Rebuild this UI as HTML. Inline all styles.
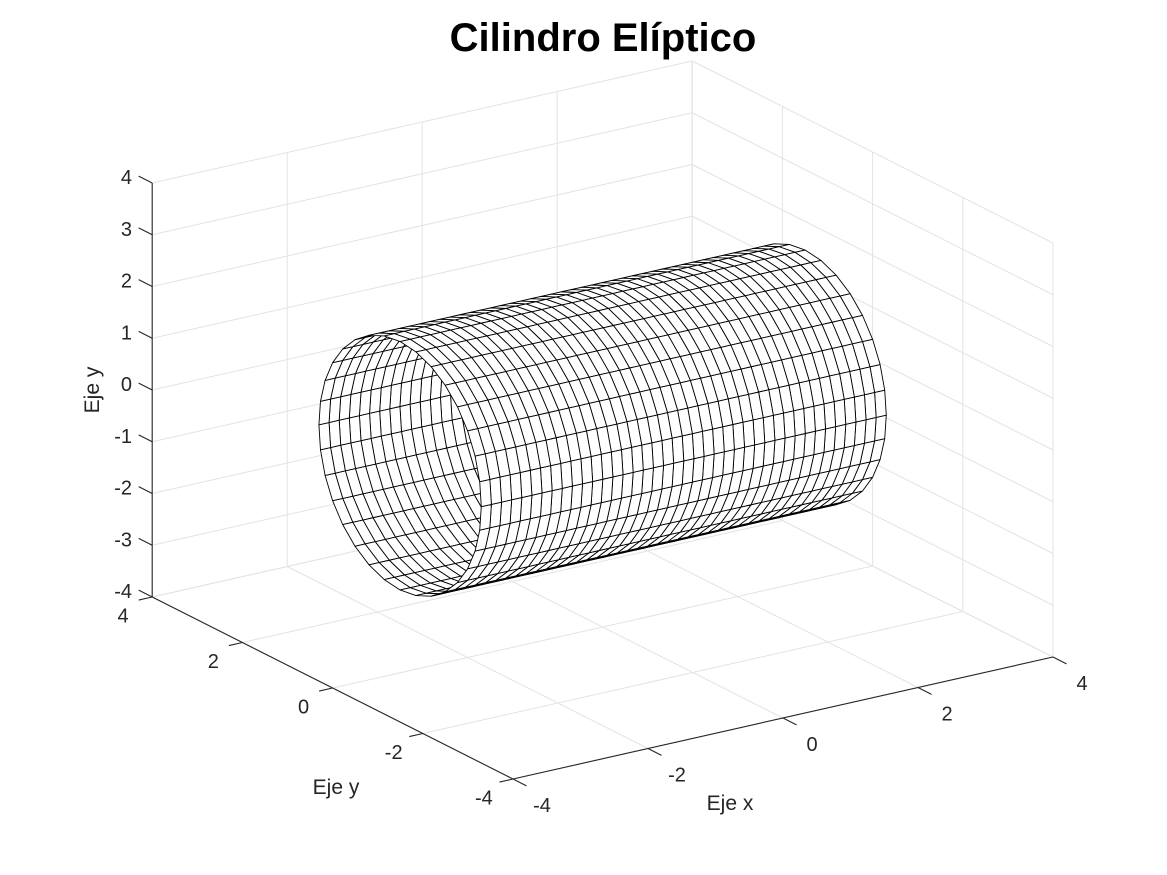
<!DOCTYPE html>
<html><head><meta charset="utf-8"><style>
html,body{margin:0;padding:0;background:#fff;}
svg{display:block;font-family:"Liberation Sans",Arial,sans-serif;}
</style></head><body>
<svg id="chart" width="1167" height="875" viewBox="0 0 1167 875" xmlns="http://www.w3.org/2000/svg">
<rect x="0" y="0" width="1167" height="875" fill="#fff"/>
<text x="603" y="51" text-anchor="middle" font-size="40" font-weight="bold" fill="#000">Cilindro Elíptico</text>
<g id="grid"></g>
<g id="axes"></g>
<g id="mesh"></g>
<text x="730" y="810" text-anchor="middle" font-size="21" fill="#262626">Eje x</text>
<text x="336" y="794" text-anchor="middle" font-size="21" fill="#262626">Eje y</text>
<text transform="translate(99,390) rotate(-90)" text-anchor="middle" font-size="21" fill="#262626">Eje y</text>
</svg>
<script>
const xTicks = [-4, -2, 0, 2, 4];
const yTicks = [-4, -2, 0, 2, 4];
const zTicks = [-4, -3, -2, -1, 0, 1, 2, 3, 4];
const xTickLabels = ['-4', '-2', '0', '2', '4'];
const yTickLabels = ['-4', '-2', '0', '2', '4'];
const zTickLabels = ['-4', '-3', '-2', '-1', '0', '1', '2', '3', '4'];
const axisRange = [-4, 4];
const cylinderXRange = [-3, 3];
const cylinderRadii = [1.8, 2.4];
const meshCounts = [40, 32];

const NS = 'http://www.w3.org/2000/svg';
function P(x, y, z) {
  return [513 + 67.5 * (x + 4) - 45.1 * (y + 4),
          779 - 15.25 * (x + 4) - 22.75 * (y + 4) - 51.75 * (z + 4)];
}
function depth(x, y, z) { return -2334 * x - 3493 * y + 2223 * z; }
function line(g, a, b, color, w, name) {
  const l = document.createElementNS(NS, 'line');
  
  
  l.setAttribute('x1', a[0].toFixed(2)); l.setAttribute('y1', a[1].toFixed(2));
  l.setAttribute('x2', b[0].toFixed(2)); l.setAttribute('y2', b[1].toFixed(2));
  l.setAttribute('stroke', color); l.setAttribute('stroke-width', w);
  g.appendChild(l);
}
function text(g, p, s, anchor, name) {
  const t = document.createElementNS(NS, 'text');
  
  
  t.setAttribute('x', p[0].toFixed(1)); t.setAttribute('y', p[1].toFixed(1));
  t.setAttribute('text-anchor', anchor);
  t.setAttribute('font-size', '20');
  t.setAttribute('fill', '#262626');
  t.textContent = s;
  g.appendChild(t);
}
const lo = axisRange[0], hi = axisRange[1];
const grid = document.getElementById('grid');
const gc = '#e3e3e3';
xTicks.forEach(x => line(grid, P(x, hi, lo), P(x, hi, hi), gc, 1, 'grid-line'));
zTicks.forEach(z => line(grid, P(lo, hi, z), P(hi, hi, z), gc, 1, 'grid-line'));
yTicks.forEach(y => line(grid, P(hi, y, lo), P(hi, y, hi), gc, 1, 'grid-line'));
zTicks.forEach(z => line(grid, P(hi, lo, z), P(hi, hi, z), gc, 1, 'grid-line'));
xTicks.forEach(x => line(grid, P(x, lo, lo), P(x, hi, lo), gc, 1, 'grid-line'));
yTicks.forEach(y => line(grid, P(lo, y, lo), P(hi, y, lo), gc, 1, 'grid-line'));

const axes = document.getElementById('axes');
const ac = '#262626';
line(axes, P(lo, lo, lo), P(hi, lo, lo), ac, 1.1, 'x-axis-line');
line(axes, P(lo, lo, lo), P(lo, hi, lo), ac, 1.1, 'y-axis-line');
line(axes, P(lo, hi, lo), P(lo, hi, hi), ac, 1.1, 'z-axis-line');
xTicks.forEach((x, i) => {
  const a = P(x, lo, lo), b = P(x, lo - 0.3, lo);
  line(axes, a, b, ac, 1.1, 'x-tick');
  const c = P(x, lo - 0.62, lo);
  text(axes, [c[0] + 1, c[1] + 19], xTickLabels[i], 'middle', 'x-tick-label');
});
yTicks.forEach((y, i) => {
  const a = P(lo, y, lo), b = P(lo - 0.2, y, lo);
  line(axes, a, b, ac, 1.1, 'y-tick');
  const c = P(lo - 0.55, y, lo);
  text(axes, [c[0] + 8, c[1] + 17], yTickLabels[i], 'middle', 'y-tick-label');
});
zTicks.forEach((z, i) => {
  const a = P(lo, hi, z), b = P(lo, hi + 0.3, z);
  line(axes, a, b, ac, 1.1, 'z-tick');
  text(axes, [132, a[1] + 1], zTickLabels[i], 'end', 'z-tick-label');
});

const mesh = document.getElementById('mesh');
const nx = meshCounts[0], nt = meshCounts[1];
const quads = [];
function pt(i, j) {
  const x = cylinderXRange[0] + (cylinderXRange[1] - cylinderXRange[0]) * i / nx;
  const t = 2 * Math.PI * j / nt;
  return [x, cylinderRadii[0] * Math.cos(t), cylinderRadii[1] * Math.sin(t)];
}
for (let i = 0; i < nx; i++) {
  for (let j = 0; j < nt; j++) {
    const c = [pt(i, j), pt(i + 1, j), pt(i + 1, j + 1), pt(i, j + 1)];
    let d = 0; c.forEach(p => d += depth(p[0], p[1], p[2]));
    quads.push({ c, d });
  }
}
quads.sort((a, b) => a.d - b.d);
quads.forEach(q => {
  const poly = document.createElementNS(NS, 'polygon');
  
  
  poly.setAttribute('points', q.c.map(p => { const s = P(p[0], p[1], p[2]); return s[0].toFixed(2) + ',' + s[1].toFixed(2); }).join(' '));
  poly.setAttribute('fill', '#fff');
  poly.setAttribute('stroke', '#000');
  poly.setAttribute('stroke-width', '0.9');
  poly.setAttribute('stroke-linejoin', 'round');
  mesh.appendChild(poly);
});
</script>
</body></html>
